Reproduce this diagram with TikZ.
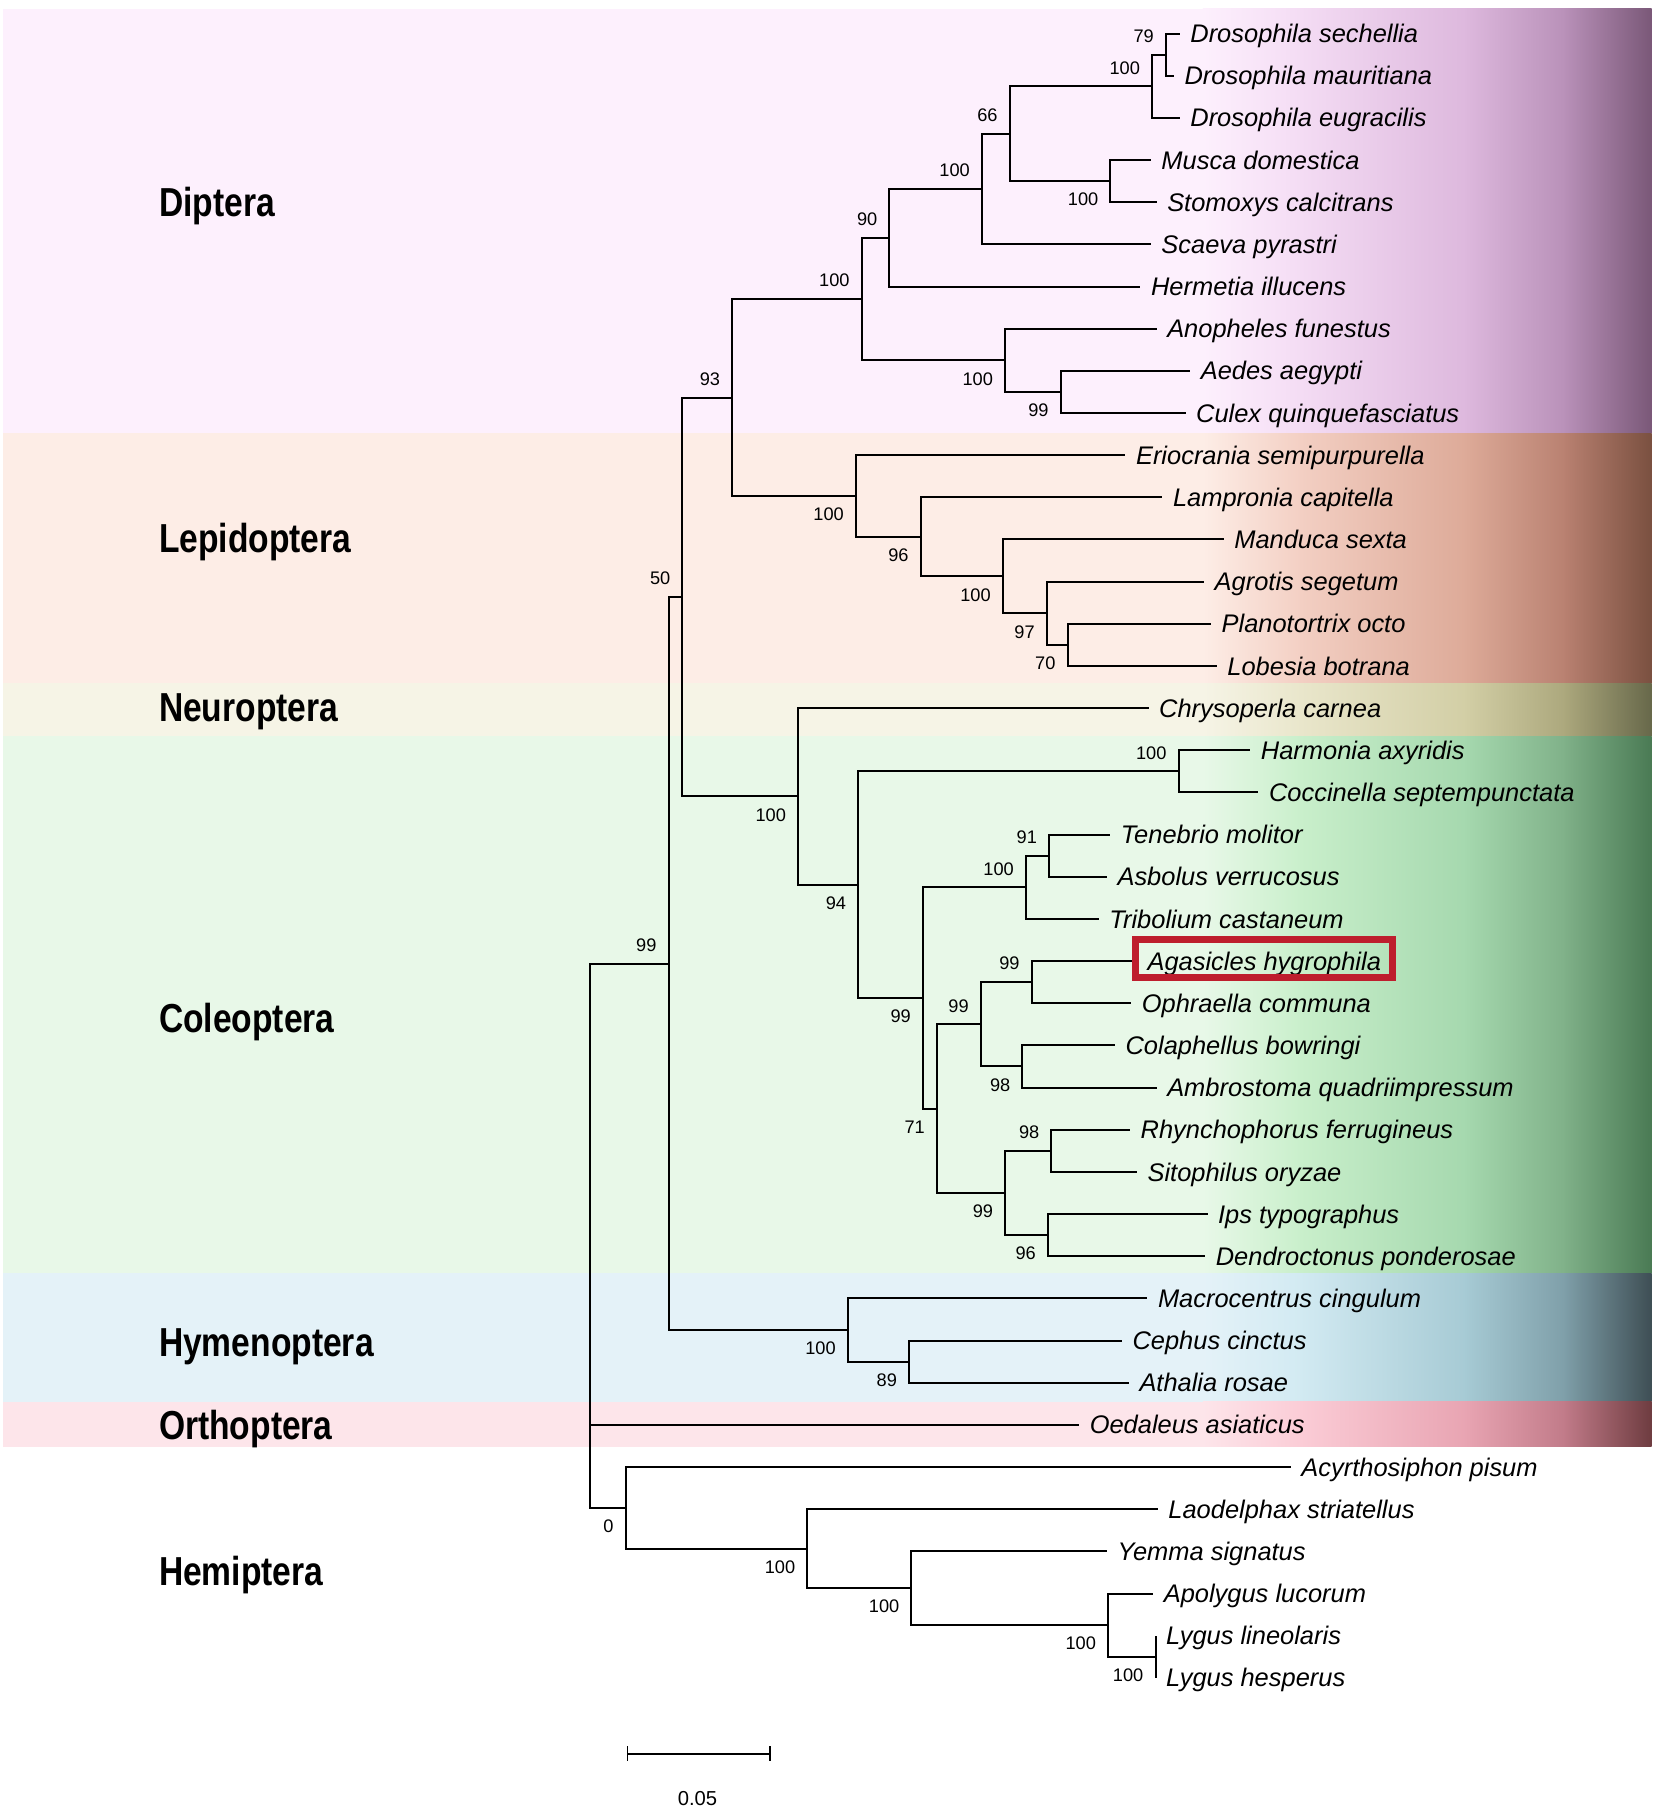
\documentclass[tikz,border=0pt]{standalone}
\usepackage{fontspec}
\setmainfont{Liberation Sans}
\usepackage{graphicx}

\definecolor{dipA}{HTML}{FDF0FD}\definecolor{dipB}{HTML}{F4DCF4}\definecolor{dipC}{HTML}{DDB8DD}\definecolor{dipD}{HTML}{B890B8}\definecolor{dipE}{HTML}{7A5878}
\definecolor{lepA}{HTML}{FDEDE6}\definecolor{lepB}{HTML}{F3CFC3}\definecolor{lepC}{HTML}{DDAA98}\definecolor{lepD}{HTML}{B88070}\definecolor{lepE}{HTML}{7A5040}
\definecolor{neuA}{HTML}{F6F4E6}\definecolor{neuB}{HTML}{E9E6CB}\definecolor{neuC}{HTML}{D2CEA5}\definecolor{neuD}{HTML}{ABA77C}\definecolor{neuE}{HTML}{67684A}
\definecolor{colA}{HTML}{E8F8E8}\definecolor{colB}{HTML}{C9EFCB}\definecolor{colC}{HTML}{A5D8AE}\definecolor{colD}{HTML}{7FB088}\definecolor{colE}{HTML}{4A7A54}
\definecolor{hymA}{HTML}{E4F2F8}\definecolor{hymB}{HTML}{D2EAF2}\definecolor{hymC}{HTML}{A6CAD4}\definecolor{hymD}{HTML}{7E9EA8}\definecolor{hymE}{HTML}{3E4E54}
\definecolor{ortA}{HTML}{FDE5EA}\definecolor{ortB}{HTML}{FBCCD6}\definecolor{ortC}{HTML}{E8A4B2}\definecolor{ortD}{HTML}{C07A88}\definecolor{ortE}{HTML}{6E3C40}
\definecolor{hlred}{HTML}{BE1E2D}

\tikzset{every picture/.style={line width=0.75pt}}

\begin{document}
\begin{tikzpicture}[x=0.75pt,y=0.75pt,yscale=-1,xscale=1,
  branch/.style={line width=1.3pt},
  taxon/.style={anchor=west, inner xsep=6.5pt, inner ysep=0pt, text height=11.8pt, text depth=0pt, font=\fontsize{16.5}{19}\selectfont\itshape},
  bs/.style={anchor=east, inner sep=0pt, xshift=-7.5pt, font=\fontsize{11.8}{14}\selectfont},
  bsup/.style={bs, yshift=12pt},
  bsdn/.style={bs, yshift=-12pt},
  grp/.style={anchor=base west, inner sep=0pt, font=\fontsize{26.25}{30}\selectfont\bfseries},
  ]
\useasboundingbox (0,0) rectangle (1430,1564);
\fill[white] (0,0) rectangle (1430,1564);

%Shape: Rectangle (Diptera band)
\fill[dipA] (3,7.6) rectangle (1042,374.6);
\shade[left color=dipA, right color=dipB] (1040,7.6) rectangle (1126,374.6);
\shade[left color=dipB, right color=dipC] (1124,7.6) rectangle (1269,374.6);
\shade[left color=dipC, right color=dipD] (1267,7.6) rectangle (1355,374.6);
\shade[left color=dipD, right color=dipE] (1353,7.6) rectangle (1428,374.6);
%Shape: Rectangle (Lepidoptera band)
\fill[lepA] (3,374.6) rectangle (1042,590.5);
\shade[left color=lepA, right color=lepB] (1040,374.6) rectangle (1126,590.5);
\shade[left color=lepB, right color=lepC] (1124,374.6) rectangle (1269,590.5);
\shade[left color=lepC, right color=lepD] (1267,374.6) rectangle (1355,590.5);
\shade[left color=lepD, right color=lepE] (1353,374.6) rectangle (1428,590.5);
%Shape: Rectangle (Neuroptera band)
\fill[neuA] (3,590.5) rectangle (1042,636.6);
\shade[left color=neuA, right color=neuB] (1040,590.5) rectangle (1126,636.6);
\shade[left color=neuB, right color=neuC] (1124,590.5) rectangle (1269,636.6);
\shade[left color=neuC, right color=neuD] (1267,590.5) rectangle (1355,636.6);
\shade[left color=neuD, right color=neuE] (1353,590.5) rectangle (1428,636.6);
%Shape: Rectangle (Coleoptera band)
\fill[colA] (3,636.6) rectangle (1042,1100.8);
\shade[left color=colA, right color=colB] (1040,636.6) rectangle (1126,1100.8);
\shade[left color=colB, right color=colC] (1124,636.6) rectangle (1269,1100.8);
\shade[left color=colC, right color=colD] (1267,636.6) rectangle (1355,1100.8);
\shade[left color=colD, right color=colE] (1353,636.6) rectangle (1428,1100.8);
%Shape: Rectangle (Hymenoptera band)
\fill[hymA] (3,1100.8) rectangle (1042,1212);
\shade[left color=hymA, right color=hymB] (1040,1100.8) rectangle (1126,1212);
\shade[left color=hymB, right color=hymC] (1124,1100.8) rectangle (1269,1212);
\shade[left color=hymC, right color=hymD] (1267,1100.8) rectangle (1355,1212);
\shade[left color=hymD, right color=hymE] (1353,1100.8) rectangle (1428,1212);
%Shape: Rectangle (Orthoptera band)
\fill[ortA] (3,1212) rectangle (1042,1251);
\shade[left color=ortA, right color=ortB] (1040,1212) rectangle (1126,1251);
\shade[left color=ortB, right color=ortC] (1124,1212) rectangle (1269,1251);
\shade[left color=ortC, right color=ortD] (1267,1212) rectangle (1355,1251);
\shade[left color=ortD, right color=ortE] (1353,1212) rectangle (1428,1251);

% Group labels
\node[grp] (gdip) at (137,187) {\scalebox{0.83}[1]{Diptera}};
\node[grp] (glep) at (137,478) {\scalebox{0.83}[1]{Lepidoptera}};
\node[grp] (gneu) at (137,624) {\scalebox{0.83}[1]{Neuroptera}};
\node[grp] (gcol) at (137,892.5) {\scalebox{0.83}[1]{Coleoptera}};
\node[grp] (ghym) at (137,1173) {\scalebox{0.83}[1]{Hymenoptera}};
\node[grp] (gort) at (137,1244.5) {\scalebox{0.83}[1]{Orthoptera}};
\node[grp] (ghem) at (137,1371) {\scalebox{0.83}[1]{Hemiptera}};

% Text Node (taxa)
\node[taxon] (dsec) at (1020,29) {Drosophila sechellia};
\node[taxon] (dmau) at (1015,65.5) {Drosophila mauritiana};
\node[taxon] (deug) at (1020,101.9) {Drosophila eugracilis};
\node[taxon] (mdom) at (995,138.4) {Musca domestica};
\node[taxon] (scal) at (1000,174.8) {Stomoxys calcitrans};
\node[taxon] (spyr) at (995,211.3) {Scaeva pyrastri};
\node[taxon] (hill) at (986,247.7) {Hermetia illucens};
\node[taxon] (afun) at (1000,284.2) {Anopheles funestus};
\node[taxon] (aaeg) at (1029,320.6) {Aedes aegypti};
\node[taxon] (cqui) at (1025,357.1) {Culex quinquefasciatus};
\node[taxon] (esem) at (973,393.5) {Eriocrania semipurpurella};
\node[taxon] (lcap) at (1005,430) {Lampronia capitella};
\node[taxon] (msex) at (1058,466.4) {Manduca sexta};
\node[taxon] (aseg) at (1041,502.9) {Agrotis segetum};
\node[taxon] (poct) at (1047,539.3) {Planotortrix octo};
\node[taxon] (lbot) at (1052,575.8) {Lobesia botrana};
\node[taxon] (ccar) at (993,612.2) {Chrysoperla carnea};
\node[taxon] (haxy) at (1081,648.7) {Harmonia axyridis};
\node[taxon] (csep) at (1088,685.1) {Coccinella septempunctata};
\node[taxon] (tmol) at (960,721.6) {Tenebrio molitor};
\node[taxon] (aver) at (957,758) {Asbolus verrucosus};
\node[taxon] (tcas) at (950,794.5) {Tribolium castaneum};
\node[taxon] (ahyg) at (983,830.9) {Agasicles hygrophila};
\node[taxon] (ocom) at (978,867.4) {Ophraella communa};
\node[taxon] (cbow) at (964,903.8) {Colaphellus bowringi};
\node[taxon] (aqua) at (1000,940.3) {Ambrostoma quadriimpressum};
\node[taxon] (rfer) at (977,976.7) {Rhynchophorus ferrugineus};
\node[taxon] (sory) at (983,1013.2) {Sitophilus oryzae};
\node[taxon] (ityp) at (1044,1049.6) {Ips typographus};
\node[taxon] (dpon) at (1042,1086.1) {Dendroctonus ponderosae};
\node[taxon] (mcin) at (992,1122.5) {Macrocentrus cingulum};
\node[taxon] (ccin) at (970,1159) {Cephus cinctus};
\node[taxon] (aros) at (976,1195.4) {Athalia rosae};
\node[taxon] (oasi) at (933,1231.9) {Oedaleus asiaticus};
\node[taxon] (apis) at (1116,1268.3) {Acyrthosiphon pisum};
\node[taxon] (lstr) at (1001,1304.8) {Laodelphax striatellus};
\node[taxon] (ysig) at (957,1341.2) {Yemma signatus};
\node[taxon] (aluc) at (997,1377.7) {Apolygus lucorum};
\node[taxon] (llin) at (999,1414.1) {Lygus lineolaris};
\node[taxon] (lhes) at (999,1450.6) {Lygus hesperus};

% Internal nodes
\coordinate (dros12) at (1008,47.2);
\coordinate (dros) at (996,74.6);
\coordinate (musc) at (960,156.6);
\coordinate (cal) at (873,115.6);
\coordinate (cyc) at (849,163.4);
\coordinate (bra) at (769,205.6);
\coordinate (cul) at (917,338.8);
\coordinate (nem) at (869,311.5);
\coordinate (dip) at (745,258.6);
\coordinate (lob) at (923,557.5);
\coordinate (agr) at (905,530.2);
\coordinate (man) at (867,498.3);
\coordinate (lam) at (796,464.1);
\coordinate (lep) at (740,428.8);
\coordinate (amph) at (633,343.7);
\coordinate (coc) at (1019,666.9);
\coordinate (ten2) at (907,739.8);
\coordinate (ten) at (887,767.1);
\coordinate (chr2) at (892,849.1);
\coordinate (chr3) at (884,922);
\coordinate (chry) at (848,885.6);
\coordinate (cur2) at (909,994.9);
\coordinate (cur3) at (906,1067.8);
\coordinate (cur) at (869,1031.4);
\coordinate (phy) at (810,958.5);
\coordinate (cuc) at (798,862.8);
\coordinate (pol) at (742,764.9);
\coordinate (neco) at (690,688.6);
\coordinate (hol) at (590,516.2);
\coordinate (sym) at (786,1177.2);
\coordinate (hym) at (733,1149.9);
\coordinate (endo) at (578,833.1);
\coordinate (lyg) at (999,1432.3);
\coordinate (mir) at (958,1405);
\coordinate (cim) at (788,1373.1);
\coordinate (ful) at (698,1338.9);
\coordinate (hem) at (541,1303.6);
\coordinate (root) at (510,1068.4);

%Straight Lines (branches)
\draw[branch] (dros12) |- (dsec.west);
\draw[branch] (dros12) |- (dmau.west);
\draw[branch] (dros) |- (dros12);
\draw[branch] (dros) |- (deug.west);
\draw[branch] (musc) |- (mdom.west);
\draw[branch] (musc) |- (scal.west);
\draw[branch] (cal) |- (dros);
\draw[branch] (cal) |- (musc);
\draw[branch] (cyc) |- (cal);
\draw[branch] (cyc) |- (spyr.west);
\draw[branch] (bra) |- (cyc);
\draw[branch] (bra) |- (hill.west);
\draw[branch] (cul) |- (aaeg.west);
\draw[branch] (cul) |- (cqui.west);
\draw[branch] (nem) |- (afun.west);
\draw[branch] (nem) |- (cul);
\draw[branch] (dip) |- (bra);
\draw[branch] (dip) |- (nem);
\draw[branch] (lob) |- (poct.west);
\draw[branch] (lob) |- (lbot.west);
\draw[branch] (agr) |- (aseg.west);
\draw[branch] (agr) |- (lob);
\draw[branch] (man) |- (msex.west);
\draw[branch] (man) |- (agr);
\draw[branch] (lam) |- (lcap.west);
\draw[branch] (lam) |- (man);
\draw[branch] (lep) |- (esem.west);
\draw[branch] (lep) |- (lam);
\draw[branch] (amph) |- (dip);
\draw[branch] (amph) |- (lep);
\draw[branch] (coc) |- (haxy.west);
\draw[branch] (coc) |- (csep.west);
\draw[branch] (ten2) |- (tmol.west);
\draw[branch] (ten2) |- (aver.west);
\draw[branch] (ten) |- (ten2);
\draw[branch] (ten) |- (tcas.west);
\draw[branch] (chr2) |- (ahyg.west);
\draw[branch] (chr2) |- (ocom.west);
\draw[branch] (chr3) |- (cbow.west);
\draw[branch] (chr3) |- (aqua.west);
\draw[branch] (chry) |- (chr2);
\draw[branch] (chry) |- (chr3);
\draw[branch] (cur2) |- (rfer.west);
\draw[branch] (cur2) |- (sory.west);
\draw[branch] (cur3) |- (ityp.west);
\draw[branch] (cur3) |- (dpon.west);
\draw[branch] (cur) |- (cur2);
\draw[branch] (cur) |- (cur3);
\draw[branch] (phy) |- (chry);
\draw[branch] (phy) |- (cur);
\draw[branch] (cuc) |- (ten);
\draw[branch] (cuc) |- (phy);
\draw[branch] (pol) |- (coc);
\draw[branch] (pol) |- (cuc);
\draw[branch] (neco) |- (ccar.west);
\draw[branch] (neco) |- (pol);
\draw[branch] (hol) |- (amph);
\draw[branch] (hol) |- (neco);
\draw[branch] (sym) |- (ccin.west);
\draw[branch] (sym) |- (aros.west);
\draw[branch] (hym) |- (mcin.west);
\draw[branch] (hym) |- (sym);
\draw[branch] (endo) |- (hol);
\draw[branch] (endo) |- (hym);
\draw[branch] (lyg) |- (llin.west);
\draw[branch] (lyg) |- (lhes.west);
\draw[branch] (mir) |- (aluc.west);
\draw[branch] (mir) |- (lyg);
\draw[branch] (cim) |- (ysig.west);
\draw[branch] (cim) |- (mir);
\draw[branch] (ful) |- (lstr.west);
\draw[branch] (ful) |- (cim);
\draw[branch] (hem) |- (apis.west);
\draw[branch] (hem) |- (ful);
\draw[branch] (root) |- (endo);
\draw[branch] (root) |- (oasi.west);
\draw[branch] (root) |- (hem);

% Text Node (bootstrap values)
\node[bsup] (b-dros12) at (dros12) {79};
\node[bsup] (b-dros) at (dros) {100};
\node[bsdn] (b-musc) at (musc) {100};
\node[bsup] (b-cal) at (cal) {66};
\node[bsup] (b-cyc) at (cyc) {100};
\node[bsup] (b-bra) at (bra) {90};
\node[bsdn] (b-cul) at (cul) {99};
\node[bsdn] (b-nem) at (nem) {100};
\node[bsup] (b-dip) at (dip) {100};
\node[bsdn] (b-lob) at (lob) {70};
\node[bsdn] (b-agr) at (agr) {97};
\node[bsdn] (b-man) at (man) {100};
\node[bsdn] (b-lam) at (lam) {96};
\node[bsdn] (b-lep) at (lep) {100};
\node[bsup] (b-amph) at (amph) {93};
\node[bsup] (b-coc) at (coc) {100};
\node[bsup] (b-ten2) at (ten2) {91};
\node[bsup] (b-ten) at (ten) {100};
\node[bsup] (b-chr2) at (chr2) {99};
\node[bsdn] (b-chr3) at (chr3) {98};
\node[bsup] (b-chry) at (chry) {99};
\node[bsup] (b-cur2) at (cur2) {98};
\node[bsdn] (b-cur3) at (cur3) {96};
\node[bsdn] (b-cur) at (cur) {99};
\node[bsdn] (b-phy) at (phy) {71};
\node[bsdn] (b-cuc) at (cuc) {99};
\node[bsdn] (b-pol) at (pol) {94};
\node[bsdn] (b-neco) at (neco) {100};
\node[bsup] (b-hol) at (hol) {50};
\node[bsdn] (b-sym) at (sym) {89};
\node[bsdn] (b-hym) at (hym) {100};
\node[bsup] (b-endo) at (endo) {99};
\node[bsdn] (b-lyg) at (lyg) {100};
\node[bsdn] (b-mir) at (mir) {100};
\node[bsdn] (b-cim) at (cim) {100};
\node[bsdn] (b-ful) at (ful) {100};
\node[bsdn] (b-hem) at (hem) {0};

%Shape: Rectangle (highlight)
\draw[color=hlred, line width=4.5pt] (982,812) rectangle (1203.5,845.5);

%Straight Lines (scale bar)
\coordinate (sbl) at (542.7,1516.3);
\coordinate (sbr) at (665.6,1516.3);
\draw[line width=1.3pt] (sbl) -- (sbr);
\draw[line width=1pt] (sbl) ++(0,-6.5) -- ++(0,13);
\draw[line width=1pt] (sbr) ++(0,-6.5) -- ++(0,13);
\node[inner sep=0pt, font=\fontsize{13.1}{15}\selectfont] (sblab) at (603,1555) {0.05};

\end{tikzpicture}
\end{document}
